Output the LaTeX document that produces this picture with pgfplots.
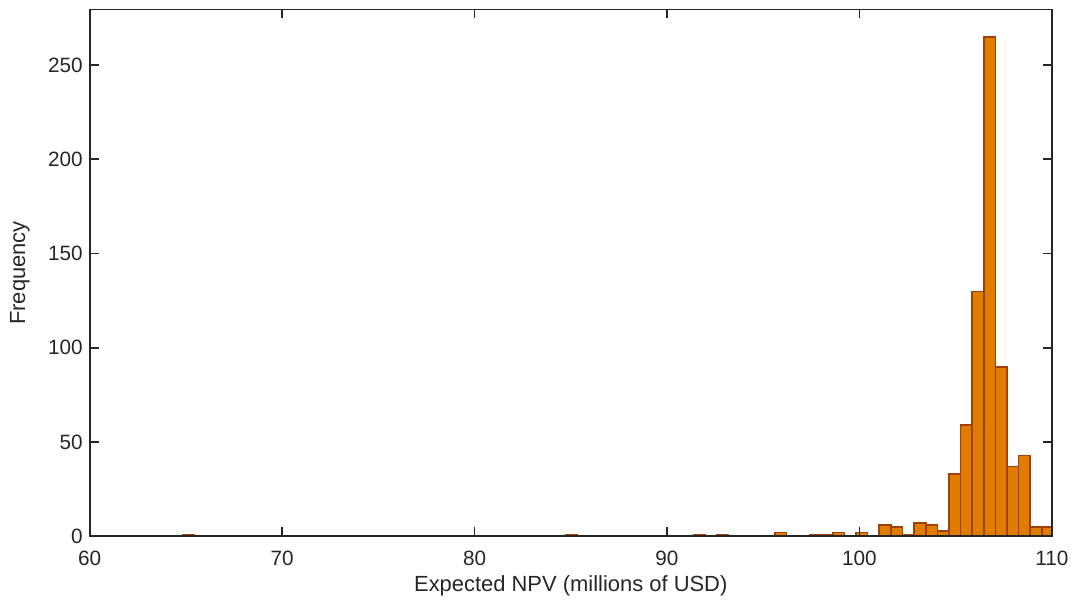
\documentclass[border=0pt]{standalone}
\usepackage{fontspec}
\setmainfont{Liberation Sans}
\usepackage{pgfplots}
\pgfplotsset{compat=1.18}

\definecolor{barfill}{RGB}{224,124,0}
\definecolor{baredge}{RGB}{160,66,8}
\definecolor{axline}{RGB}{38,38,38}

\begin{document}
\begin{tikzpicture}
\begin{axis}[
scale only axis,
width=482.5pt,
height=264.25pt,
xmin=60, xmax=110,
ymin=0, ymax=279.5,
xtick={60,70,...,110},
ytick={0,50,...,250},
tick align=inside,
major tick length=4.5pt,
axis line style={axline,line width=0.9pt},
every tick/.style={axline,line width=0.9pt},
axis on top,
clip=true,
/pgf/number format/assume math mode=true,
tick label style={font=\fontsize{10.4}{12}\selectfont, color=axline},
xticklabel style={yshift=-4pt},
label style={font=\fontsize{11}{13}\selectfont, color=axline},
xlabel={Expected NPV (millions of USD)},
ylabel={Frequency},
xlabel style={at={(axis description cs:0.5,-0.0945)}, anchor=center},
ylabel style={at={(axis description cs:-0.0725,0.5)}, anchor=center},
]
% histogram, 75 bins of width ~0.603 starting at 64.83
\addplot[ybar interval, fill=barfill, draw=baredge, line width=0.8pt] coordinates {
(64.83,1) (65.43,0) (66.04,0) (66.64,0) (67.24,0) (67.85,0) (68.45,0) (69.05,0)
(69.66,0) (70.26,0) (70.86,0) (71.47,0) (72.07,0) (72.67,0) (73.28,0) (73.88,0)
(74.48,0) (75.09,0) (75.69,0) (76.29,0) (76.90,0) (77.50,0) (78.10,0) (78.71,0)
(79.31,0) (79.92,0) (80.52,0) (81.12,0) (81.73,0) (82.33,0) (82.93,0) (83.54,0)
(84.14,0) (84.74,1) (85.35,0) (85.95,0) (86.55,0) (87.16,0) (87.76,0) (88.36,0)
(88.97,0) (89.57,0) (90.17,0) (90.78,0) (91.38,1) (91.98,0) (92.59,1) (93.19,0)
(93.79,0) (94.40,0) (95.00,0) (95.60,2) (96.21,0) (96.81,0) (97.41,1) (98.02,1)
(98.62,2) (99.22,0) (99.83,2) (100.43,0) (101.03,6) (101.64,5) (102.24,1) (102.84,7)
(103.45,6) (104.05,3) (104.65,33) (105.26,59) (105.86,130) (106.46,265) (107.07,90) (107.67,37)
(108.27,43) (108.88,5) (109.48,5) (110.09,0)
};
\end{axis}
\path[use as bounding box] ([xshift=-45pt,yshift=-31.5pt]current axis.south west) rectangle ([xshift=10pt,yshift=4.75pt]current axis.north east);
\end{tikzpicture}
\end{document}
